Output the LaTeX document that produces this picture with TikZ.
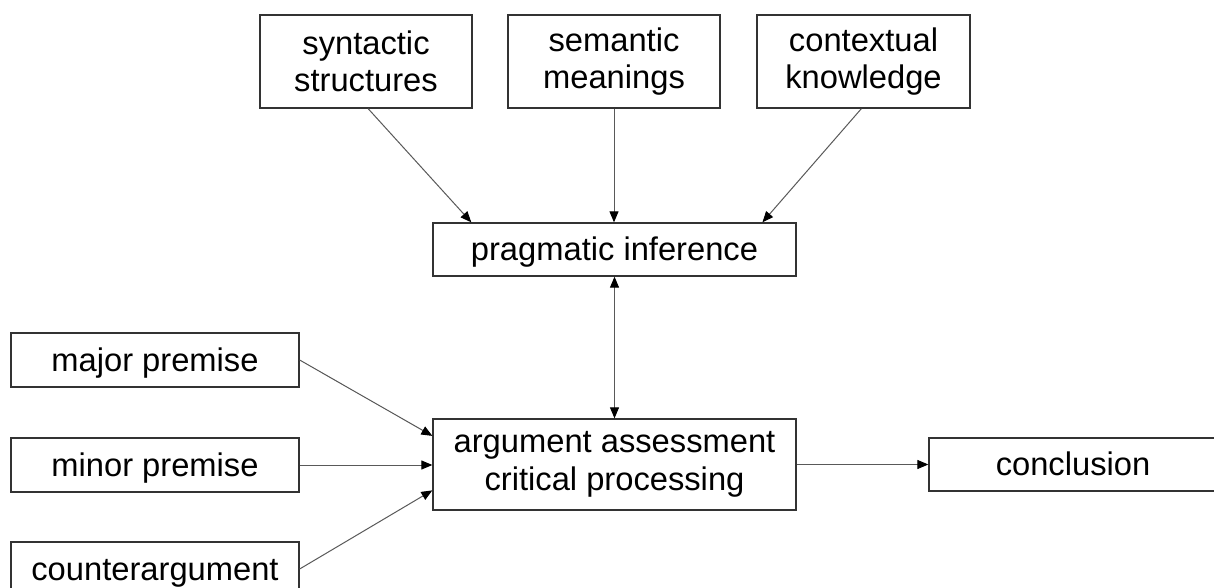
\documentclass[tikz,border=0pt]{standalone}
\usepackage{fontspec}
\setmainfont{Liberation Sans}
\usetikzlibrary{arrows.meta,calc}
\begin{document}
\begin{tikzpicture}[x=1pt,y=-1pt,
  box/.style={draw=black!80, line width=1.3pt, fill=white, rectangle, inner sep=0pt,
    align=center, font=\fontsize{32.7}{37.6}\selectfont},
  one/.style={text height=24pt, text depth=2pt},
  conn/.style={draw=black!65, line width=1pt, -{Triangle[length=11pt,width=9pt,color=black]}}]
\clip (0,0) rectangle (1214,588);
\fill[white] (0,0) rectangle (1214,588);
\node[box, minimum width=212pt, minimum height=93pt] (syn) at (366,61.5) {syntactic\\structures};
\node[box, minimum width=212pt, minimum height=93pt] (sem) at (614,61.5) {semantic\\meanings};
\node[box, minimum width=213pt, minimum height=93pt] (ctx) at (863.5,61.5) {contextual\\knowledge};
\node[box, one, minimum width=363pt, minimum height=53pt] (prag) at (614.5,249.5) {pragmatic inference};
\node[box, minimum width=363pt, minimum height=91pt] (arg) at (614.5,464.5) {argument assessment\\critical processing};
\node[box, one, minimum width=288pt, minimum height=54pt] (maj) at (155,360) {major premise};
\node[box, one, minimum width=288pt, minimum height=54pt] (min) at (155,465) {minor premise};
\node[box, one, minimum width=288pt, minimum height=54pt] (cnt) at (155,569) {counterargument};
\node[box, one, minimum width=294pt, minimum height=53pt] (conc) at (1076,464.5) {\hspace*{-6pt}conclusion};
\draw[conn] ($(syn.south west)!0.51!(syn.south east)$) -- ($(prag.north west)!0.107!(prag.north east)$);
\draw[conn] (sem.south) -- (sem.south |- prag.north);
\draw[conn] ($(ctx.south west)!0.49!(ctx.south east)$) -- ($(prag.north west)!0.906!(prag.north east)$);
\draw[conn, {Triangle[length=11pt,width=9pt,color=black]}-{Triangle[length=11pt,width=9pt,color=black]}] (prag.south) -- (arg.north);
\draw[conn] (maj.east) -- ($(arg.north west)!0.19!(arg.south west)$);
\draw[conn] (min.east) -- (min.east -| arg.west);
\draw[conn] (cnt.east) -- ($(arg.north west)!0.78!(arg.south west)$);
\draw[conn] (arg.east) -- (arg.east -| conc.west);
\end{tikzpicture}
\end{document}
